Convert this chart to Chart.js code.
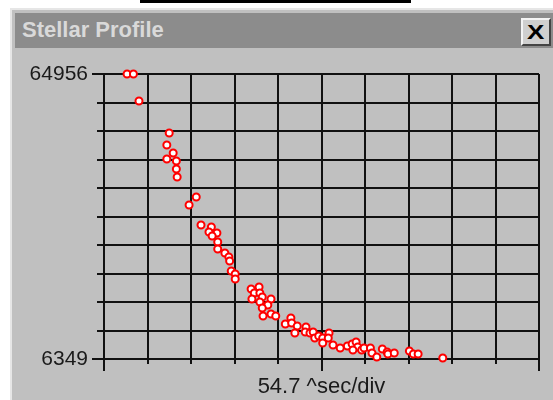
<!DOCTYPE html>
<html>
<head>
<meta charset="utf-8">
<script src="https://cdn.jsdelivr.net/npm/chart.js@4/dist/chart.umd.min.js"></script>
<style>
  body { margin: 0; background: #fff; width: 553px; height: 400px; overflow: hidden; position: relative; font-family: "Liberation Sans", Arial, sans-serif; }
  #topline { position: absolute; left: 140px; top: 0; width: 271px; height: 3px; background: #000; }
  #win { position: absolute; left: 10px; top: 8px; right: 0; bottom: 0; background: #c0c0c0;
         border-left: 2px solid #e6e6e6; border-top: 2px solid #e6e6e6; }
  #titlebar { position: absolute; left: 15px; top: 13px; right: 0; height: 35px; background: #8c8c8c; }
  #title { position: absolute; left: 22px; top: 19px; font: bold 22px/22px "Liberation Sans", Arial, sans-serif; color: #d9d9d9; }
  #close { position: absolute; left: 521px; top: 18px; width: 26px; height: 24px; background: #cfcfcf;
           border-top: 2px solid #f4f4f4; border-left: 2px solid #f4f4f4; border-right: 2px solid #444; border-bottom: 2px solid #444;
           font: bold 20px/24px "Liberation Sans", Arial, sans-serif; text-align: center; color: #000; }
  #close span { display: inline-block; transform: scaleX(1.3); }
  #c { position: absolute; left: 0; top: 0; }
</style>
</head>
<body>
<div id="topline"></div>
<div id="win"></div>
<div id="titlebar"></div>
<div id="title">Stellar Profile</div>
<div id="close"><span>X</span></div>
<canvas id="c" width="553" height="400"></canvas>
<script>
// time in ^sec, counts
const timeUs = [
  29, 37, 44, 82, 79, 87, 79, 91, 91, 92,
  116, 107, 122, 135, 132, 142, 136, 143, 143, 152,
  157, 158, 160, 165, 165, 185, 195, 189, 196, 186,
  199, 196, 210, 206, 199, 200, 210, 216, 228, 235,
  236, 243, 240, 254, 253, 259, 263, 265, 270, 275,
  275, 283, 282, 288, 297, 306, 312, 317, 319, 313,
  324, 327, 335, 337, 343, 350, 356, 357, 365, 384,
  389, 395, 426
];
const counts = [
  64956, 64956, 59400, 52820, 50360, 48710, 47480, 47070, 45420, 43780,
  39660, 38020, 33900, 33490, 32470, 32260, 31640, 30410, 28970, 28150,
  27320, 26500, 24450, 23830, 22800, 20740, 21160, 19920, 19920, 18690,
  19100, 18070, 18690, 17450, 16840, 15190, 15600, 15190, 13550, 14780,
  13750, 13140, 11700, 12930, 11900, 11700, 11900, 10670, 11080, 10670,
  9640, 11700, 10670, 9230, 8610, 9020, 9430, 9850, 8820, 8200,
  8200, 8610, 8610, 7580, 6760, 8410, 7790, 7380, 7580, 7990,
  7380, 7380, 6560
];

const yMin = 6349, yMax = 64956;
const usPerDiv = 54.7;
const divs = 10;
const xTitle = "54.7 ^sec/div";

const gridColor = "#111";
const yTicks = [];
const xTicks = [];
for (let i = 0; i <= divs; i++) {
  yTicks.push(yMin + i * (yMax - yMin) / divs);
  xTicks.push(i * usPerDiv);
}

const points = timeUs.map((t, i) => ({ x: t, y: counts[i] }));

// short tick marks on the unlabelled grid lines
const shortTicks = {
  id: "shortTicks",
  afterDraw(chart) {
    const { ctx, chartArea: a, scales: { x, y } } = chart;
    ctx.save();
    ctx.strokeStyle = gridColor;
    ctx.lineWidth = 2;
    ctx.beginPath();
    y.ticks.forEach((t, i) => {
      if (i > 0 && i < y.ticks.length - 1) {
        const py = Math.round(y.getPixelForValue(t.value));
        ctx.moveTo(a.left - 7, py);
        ctx.lineTo(a.left, py);
      }
    });
    x.ticks.forEach((t, i) => {
      if (i % 5) {
        const px = Math.round(x.getPixelForValue(t.value));
        ctx.moveTo(px, a.bottom);
        ctx.lineTo(px, a.bottom + 5);
      }
    });
    ctx.stroke();
    ctx.restore();
  }
};

new Chart(document.getElementById("c"), {
  type: "scatter",
  data: {
    datasets: [{
      data: points,
      pointRadius: 3.5,
      pointHoverRadius: 3.5,
      borderWidth: 2,
      borderColor: "#ff0000",
      backgroundColor: "#ffffff",
      clip: false
    }]
  },
  options: {
    responsive: false,
    animation: false,
    devicePixelRatio: 1,
    layout: { padding: { left: 14, right: 14, top: 74, bottom: 0 } },
    plugins: { legend: { display: false }, tooltip: { enabled: false } },
    scales: {
      x: {
        type: "linear",
        min: 0,
        max: divs * usPerDiv,
        afterBuildTicks: s => { s.ticks = xTicks.map(v => ({ value: v })); },
        afterFit: s => { s.height = 41; },
        ticks: { callback: () => "", padding: 0 },
        grid: {
          color: gridColor,
          lineWidth: 2,
          tickLength: 12,
          tickWidth: 2,
          tickColor: c => (c.index % 5 === 0 ? gridColor : "rgba(0,0,0,0)")
        },
        border: { display: false },
        title: {
          display: true,
          text: xTitle,
          color: "#1a1a1a",
          font: { family: "Liberation Sans", size: 22 },
          padding: { top: 0, bottom: 0 }
        }
      },
      y: {
        type: "linear",
        min: yMin,
        max: yMax,
        afterBuildTicks: s => { s.ticks = yTicks.map(v => ({ value: v })); },
        afterFit: s => { s.width = 90; },
        ticks: {
          padding: 4,
          color: "#1a1a1a",
          font: { family: "Liberation Sans", size: 21 },
          callback: (v, i) => (i === 0 || i === divs ? String(Math.round(v)) : "")
        },
        grid: {
          color: gridColor,
          lineWidth: 2,
          tickLength: 12,
          tickWidth: 2,
          tickColor: c => (c.index === 0 || c.index === divs ? gridColor : "rgba(0,0,0,0)")
        },
        border: { display: false }
      }
    }
  },
  plugins: [shortTicks]
});
</script>
</body>
</html>
